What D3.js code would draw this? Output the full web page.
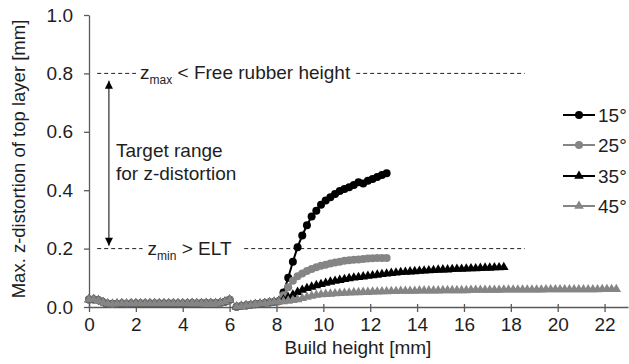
<!DOCTYPE html>
<html lang="en">
<head>
    <meta charset="UTF-8">
    <title>Max. z-distortion of top layer</title>
    <style>
        body {
            margin: 0;
            background: #ffffff;
            font-family: "Liberation Sans", Arial, sans-serif;
        }
        #chart text {
            fill: #1e1e1e;
        }
    </style>
    <script src="https://d3js.org/d3.v7.min.js"></script>
</head>
<body>
<div id="chart"></div>

<script>
    // ---- data ----
    // build heights [mm] of the first printing phase
    const heightsStart = [0, 0.2, 0.4, 0.6, 0.8, 1.0, 1.2, 1.4, 1.6, 1.8, 2.0, 2.2, 2.4, 2.6, 2.8, 3.0,
        3.2, 3.4, 3.6, 3.8, 4.0, 4.2, 4.4, 4.6, 4.8, 5.0, 5.2, 5.4, 5.6, 5.8, 6.0];
    // max. z-distortion [mm] in the first phase (same for all angles)
    const valuesStart = [0.026, 0.026, 0.023, 0.016, 0.011, 0.010, 0.011, 0.012, 0.011, 0.012, 0.012,
        0.012, 0.012, 0.012, 0.012, 0.012, 0.012, 0.012, 0.012, 0.012, 0.012, 0.012, 0.013, 0.012,
        0.013, 0.013, 0.013, 0.013, 0.014, 0.018, 0.025];

    // build heights [mm] of the second phase
    const heightsRun = [6.3, 6.5, 6.7, 6.9, 7.1, 7.3, 7.5, 7.7, 7.9, 8.1,
        8.3, 8.5, 8.7, 8.9, 9.1, 9.3, 9.5, 9.7, 9.9, 10.1,
        10.3, 10.5, 10.7, 10.9, 11.1, 11.3, 11.5, 11.7, 11.9, 12.1,
        12.3, 12.5, 12.7, 12.9, 13.1, 13.3, 13.5, 13.7, 13.9, 14.1,
        14.3, 14.5, 14.7, 14.9, 15.1, 15.3, 15.5, 15.7, 15.9, 16.1,
        16.3, 16.5, 16.7, 16.9, 17.1, 17.3, 17.5, 17.7, 17.9, 18.1,
        18.3, 18.5, 18.7, 18.9, 19.1, 19.3, 19.5, 19.7, 19.9, 20.1,
        20.3, 20.5, 20.7, 20.9, 21.1, 21.3, 21.5, 21.7, 21.9, 22.1,
        22.3, 22.5];

    const values15 = [0.001, 0.003, 0.005, 0.007, 0.009, 0.011, 0.013, 0.015, 0.017, 0.020,
        0.050, 0.100, 0.155, 0.205, 0.245, 0.280, 0.310, 0.330, 0.350, 0.365,
        0.376, 0.387, 0.397, 0.404, 0.410, 0.418, 0.427, 0.423, 0.432, 0.438,
        0.445, 0.452, 0.458];

    const values25 = [0.001, 0.003, 0.005, 0.007, 0.009, 0.011, 0.013, 0.015, 0.017, 0.020,
        0.040, 0.068, 0.090, 0.105, 0.115, 0.123, 0.130, 0.136, 0.141, 0.145,
        0.149, 0.152, 0.155, 0.158, 0.160, 0.162, 0.163, 0.164, 0.166, 0.167,
        0.168, 0.168, 0.168];

    const values35 = [0.001, 0.003, 0.005, 0.007, 0.009, 0.011, 0.013, 0.015, 0.017, 0.020,
        0.025, 0.033, 0.042, 0.051, 0.058, 0.064, 0.069, 0.074, 0.078, 0.082,
        0.086, 0.089, 0.092, 0.095, 0.098, 0.100, 0.102, 0.104, 0.106, 0.108,
        0.110, 0.112, 0.114, 0.116, 0.117, 0.119, 0.120, 0.121, 0.122, 0.123,
        0.124, 0.125, 0.126, 0.127, 0.128, 0.128, 0.129, 0.130, 0.130, 0.131,
        0.132, 0.132, 0.133, 0.134, 0.134, 0.135, 0.135, 0.136];

    const values45 = [0.001, 0.003, 0.005, 0.007, 0.009, 0.011, 0.013, 0.015, 0.017, 0.019,
        0.019, 0.021, 0.023, 0.026, 0.030, 0.034, 0.038, 0.041, 0.043, 0.044,
        0.045, 0.046, 0.047, 0.048, 0.049, 0.050, 0.050, 0.051, 0.051, 0.052,
        0.052, 0.053, 0.053, 0.054, 0.054, 0.055, 0.055, 0.055, 0.055, 0.056,
        0.056, 0.056, 0.056, 0.056, 0.057, 0.057, 0.057, 0.057, 0.057, 0.057,
        0.058, 0.058, 0.058, 0.058, 0.058, 0.058, 0.058, 0.059, 0.059, 0.059,
        0.059, 0.059, 0.059, 0.059, 0.059, 0.059, 0.060, 0.060, 0.060, 0.060,
        0.060, 0.060, 0.060, 0.060, 0.060, 0.060, 0.060, 0.060, 0.061, 0.061,
        0.061, 0.061];

    const seriesNames = ["15°", "25°", "35°", "45°"];
    const seriesValues = [values15, values25, values35, values45];

    const xTicks = [0, 2, 4, 6, 8, 10, 12, 14, 16, 18, 20, 22];
    const yTicks = [0, 0.2, 0.4, 0.6, 0.8, 1.0];

    // ---- layout ----
    const W = 629, H = 364;
    const margin = { top: 15, right: 1, bottom: 57, left: 89 };
    const width = W - margin.left - margin.right;
    const height = H - margin.top - margin.bottom;
    const fontSize = "19px";

    const styles = [
        { color: "#000000", shape: "circle" },
        { color: "#858585", shape: "circle" },
        { color: "#000000", shape: "triangle" },
        { color: "#858585", shape: "triangle" }
    ];

    const svg = d3.select("#chart").append("svg")
        .attr("width", W)
        .attr("height", H);

    const g = svg.append("g")
        .attr("transform", `translate(${margin.left},${margin.top})`);

    const x = d3.scaleLinear().domain([0, 23]).range([0, width]);
    const y = d3.scaleLinear().domain([0, 1]).range([height, 0]);

    // arrow heads for the target range
    const defs = svg.append("defs");
    defs.append("marker")
        .attr("id", "head")
        .attr("viewBox", "0 0 10 10")
        .attr("refX", 10).attr("refY", 5)
        .attr("markerWidth", 10).attr("markerHeight", 8)
        .attr("markerUnits", "userSpaceOnUse")
        .attr("orient", "auto-start-reverse")
        .append("path")
        .attr("d", "M0,0 L10,5 L0,10 Z")
        .attr("fill", "#000");

    // ---- axes ----
    const xAxis = g.append("g")
        .attr("transform", `translate(0,${height})`)
        .call(d3.axisBottom(x).tickValues(xTicks).tickSize(5).tickPadding(6).tickSizeOuter(0));

    const yAxis = g.append("g")
        .call(d3.axisLeft(y).tickValues(yTicks).tickFormat(d3.format(".1f"))
            .tickSize(5).tickPadding(11).tickSizeOuter(0));

    [xAxis, yAxis].forEach(a => {
        a.selectAll("path, line").attr("stroke", "#5a5a5a").attr("stroke-width", 1.3);
        a.selectAll("text")
            .style("font-family", "'Liberation Sans', Arial, sans-serif")
            .style("font-size", fontSize);
    });
    // x ticks cross the axis a little (Excel style)
    xAxis.selectAll(".tick line").attr("y1", -3);

    // axis titles
    svg.append("text")
        .attr("x", 358).attr("y", 354)
        .attr("text-anchor", "middle")
        .style("font-size", fontSize)
        .text("Build height [mm]");

    svg.append("text")
        .attr("transform", "translate(25,159) rotate(-90)")
        .attr("text-anchor", "middle")
        .style("font-size", "18.5px")
        .text("Max. z-distortion of top layer [mm]");

    // ---- reference lines with labels ----
    const refLines = [
        { value: 0.8, from: 0.35, to: 18.6, label: ["z", "max", " < Free rubber height"], at: 2.18, padL: 4, padR: 5 },
        { value: 0.2, from: 0.35, to: 18.6, label: ["z", "min", " > ELT"], at: 2.5, padL: 5, padR: 12 }
    ];

    refLines.forEach(r => {
        g.append("line")
            .attr("x1", x(r.from)).attr("x2", x(r.to))
            .attr("y1", y(r.value)).attr("y2", y(r.value))
            .attr("stroke", "#222")
            .attr("stroke-width", 1)
            .attr("stroke-dasharray", "4,3");

        const bg = g.append("rect").attr("fill", "#fff");
        const t = g.append("text")
            .attr("x", x(r.at))
            .attr("y", y(r.value) + 6)
            .style("font-size", fontSize);
        t.append("tspan").text(r.label[0]);
        t.append("tspan").attr("dy", 5).style("font-size", "12px").text(r.label[1]);
        t.append("tspan").attr("dy", -5).text(r.label[2]);

        const bb = t.node().getBBox();
        bg.attr("x", bb.x - r.padL).attr("y", bb.y + 3)
            .attr("width", bb.width + r.padL + r.padR).attr("height", bb.height - 6);
    });

    // double arrow for the target range
    g.append("line")
        .attr("x1", x(0.85)).attr("x2", x(0.85))
        .attr("y1", y(0.21)).attr("y2", y(0.775))
        .attr("stroke", "#000")
        .attr("stroke-width", 1)
        .attr("marker-start", "url(#head)")
        .attr("marker-end", "url(#head)");

    const target = g.append("text")
        .attr("x", x(1.15))
        .attr("y", 142)
        .style("font-size", fontSize);
    target.append("tspan").attr("x", x(1.15)).text("Target range");
    target.append("tspan").attr("x", x(1.15)).attr("dy", 23).text("for z-distortion");

    // ---- series ----
    const line = d3.line()
        .x(d => x(d.h))
        .y(d => y(d.v));

    const triangle = d3.symbol().type(d3.symbolTriangle).size(40);

    function drawMarkers(sel, pts, st) {
        if (st.shape === "circle") {
            sel.selectAll("circle")
                .data(pts)
                .enter().append("circle")
                .attr("cx", d => x(d.h))
                .attr("cy", d => y(d.v))
                .attr("r", 4)
                .attr("fill", st.color);
        } else {
            sel.selectAll("path.mk")
                .data(pts)
                .enter().append("path")
                .attr("class", "mk")
                .attr("d", triangle)
                .attr("transform", d => `translate(${x(d.h)},${y(d.v)})`)
                .attr("fill", st.color);
        }
    }

    seriesValues.forEach((vals, i) => {
        const st = styles[i];
        const part1 = heightsStart.map((h, k) => ({ h: h, v: valuesStart[k] }));
        const part2 = vals.map((v, k) => ({ h: heightsRun[k], v: v }));
        const sg = g.append("g");

        [part1, part2].forEach(pts => {
            sg.append("path")
                .datum(pts)
                .attr("fill", "none")
                .attr("stroke", st.color)
                .attr("stroke-width", 2)
                .attr("d", line);
            drawMarkers(sg.append("g"), pts, st);
        });
    });

    // ---- legend ----
    const legendY = [115, 145, 176, 206];
    seriesNames.forEach((name, i) => {
        const st = styles[i];
        const lg = svg.append("g").attr("transform", `translate(563,${legendY[i]})`);
        lg.append("line")
            .attr("x1", 0).attr("x2", 32)
            .attr("stroke", st.color).attr("stroke-width", 2);
        if (st.shape === "circle") {
            lg.append("circle").attr("cx", 16).attr("r", 4).attr("fill", st.color);
        } else {
            lg.append("path").attr("d", triangle).attr("transform", "translate(16,0)").attr("fill", st.color);
        }
        lg.append("text")
            .attr("x", 35).attr("y", 7)
            .style("font-size", fontSize)
            .text(name);
    });
</script>

</body>
</html>
